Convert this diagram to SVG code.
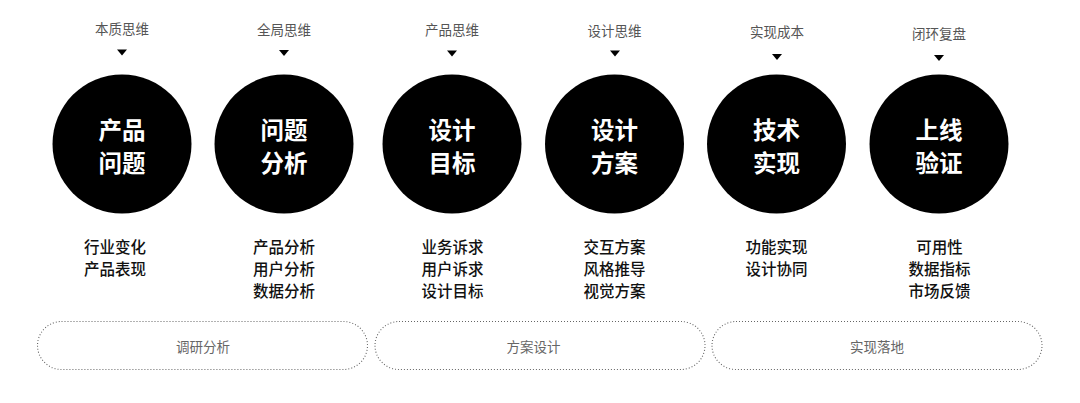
<svg xmlns="http://www.w3.org/2000/svg" width="1080" height="403" viewBox="0 0 1080 403">
<style>
.top{font-family:"Noto Sans CJK SC","Noto Sans",sans-serif;font-size:13.5px;fill:#555;text-anchor:middle}
.ct{font-family:"Noto Sans CJK SC","Noto Sans",sans-serif;font-size:23.5px;font-weight:700;fill:#fff;text-anchor:middle}
.sub{font-family:"Noto Sans CJK SC","Noto Sans",sans-serif;font-size:15.5px;font-weight:500;fill:#111;text-anchor:middle}
.pt{font-family:"Noto Sans CJK SC","Noto Sans",sans-serif;font-size:13.5px;fill:#666;text-anchor:middle}
.circ{fill:#000}
.pill{fill:none;stroke:#666;stroke-width:1.1;stroke-dasharray:1 2}
.tri{fill:#000}
</style>
<rect width="1080" height="403" fill="#fff"/>
<g id="connectors">
<polygon class="tri" points="117,49.5 127,49.5 122,55.5"/>
<polygon class="tri" points="279,50 289,50 284,56"/>
<polygon class="tri" points="447,50.5 457,50.5 452,56.5"/>
<polygon class="tri" points="610,50.5 620,50.5 615,56.5"/>
<polygon class="tri" points="772,54 782,54 777,60"/>
<polygon class="tri" points="934,55 944,55 939,61"/>
</g>
<g id="node-1">
<text class="top" x="122" y="33.5">本质思维</text>
<circle class="circ" cx="122" cy="144" r="69.5"/>
<text class="ct" x="122" y="138.5">产品</text>
<text class="ct" x="122" y="171.5">问题</text>
<text class="sub" x="115" y="253">行业变化</text>
<text class="sub" x="115" y="275">产品表现</text>
</g>
<g id="node-2">
<text class="top" x="284" y="34.5">全局思维</text>
<circle class="circ" cx="284" cy="144" r="69.5"/>
<text class="ct" x="284" y="138.5">问题</text>
<text class="ct" x="284" y="171.5">分析</text>
<text class="sub" x="284" y="253">产品分析</text>
<text class="sub" x="284" y="275">用户分析</text>
<text class="sub" x="284" y="297">数据分析</text>
</g>
<g id="node-3">
<text class="top" x="452" y="35">产品思维</text>
<circle class="circ" cx="452" cy="144" r="69.5"/>
<text class="ct" x="452" y="138.5">设计</text>
<text class="ct" x="452" y="171.5">目标</text>
<text class="sub" x="452.5" y="253">业务诉求</text>
<text class="sub" x="452.5" y="275">用户诉求</text>
<text class="sub" x="452.5" y="297">设计目标</text>
</g>
<g id="node-4">
<text class="top" x="614.5" y="35.5">设计思维</text>
<circle class="circ" cx="614.5" cy="144" r="69.5"/>
<text class="ct" x="614.5" y="138.5">设计</text>
<text class="ct" x="614.5" y="171.5">方案</text>
<text class="sub" x="614.5" y="253">交互方案</text>
<text class="sub" x="614.5" y="275">风格推导</text>
<text class="sub" x="614.5" y="297">视觉方案</text>
</g>
<g id="node-5">
<text class="top" x="777" y="37">实现成本</text>
<circle class="circ" cx="776.5" cy="144" r="69.5"/>
<text class="ct" x="776.5" y="139">技术</text>
<text class="ct" x="776.5" y="172">实现</text>
<text class="sub" x="776.5" y="253">功能实现</text>
<text class="sub" x="776.5" y="275">设计协同</text>
</g>
<g id="node-6">
<text class="top" x="939" y="39">闭环复盘</text>
<circle class="circ" cx="939" cy="144" r="69.5"/>
<text class="ct" x="939" y="139">上线</text>
<text class="ct" x="939" y="172">验证</text>
<text class="sub" x="939.5" y="253">可用性</text>
<text class="sub" x="939.5" y="275">数据指标</text>
<text class="sub" x="939.5" y="297">市场反馈</text>
</g>
<g id="phase-1">
<rect class="pill" x="37.5" y="321.5" width="330" height="48" rx="24"/>
<text class="pt" x="203" y="352">调研分析</text>
</g>
<g id="phase-2">
<rect class="pill" x="375" y="321.5" width="330" height="48" rx="24"/>
<text class="pt" x="533.5" y="352">方案设计</text>
</g>
<g id="phase-3">
<rect class="pill" x="712" y="321.5" width="330" height="48" rx="24"/>
<text class="pt" x="877" y="352">实现落地</text>
</g>
</svg>
